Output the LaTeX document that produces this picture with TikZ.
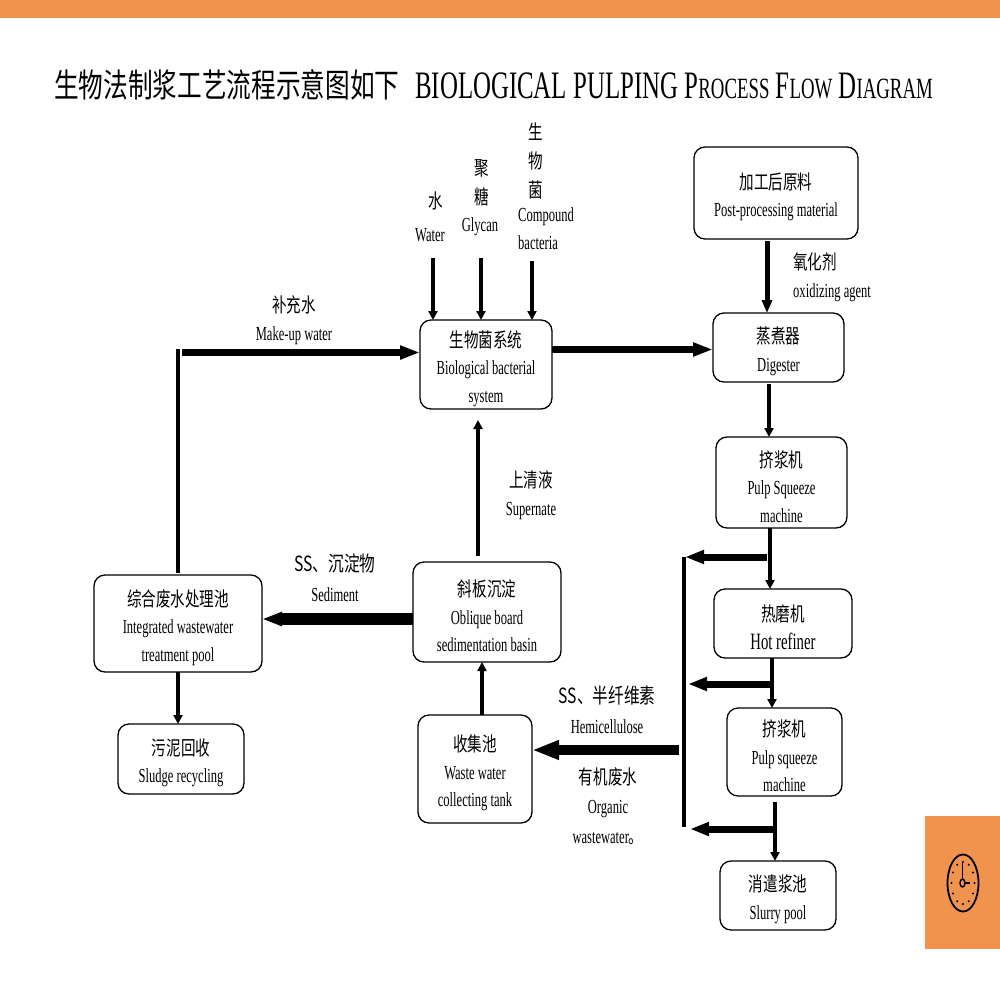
\documentclass[tikz,border=0pt]{standalone}
\usepackage{fontspec}
\usetikzlibrary{arrows.meta,shapes.geometric}
\setmainfont[FakeStretch=0.63]{Liberation Serif}
\newfontfamily\headfont[FakeStretch=0.64]{Liberation Serif}
\newfontfamily\cjfont[FakeStretch=0.73]{Noto Sans CJK SC}
\newfontfamily\cjhead[FakeStretch=0.75]{Noto Sans CJK SC}
\newcommand{\cj}[1]{{\cjfont #1}}
% first line of a box: a tall strut sets the block slightly lower in its frame
\newcommand{\hd}[1]{\rule{0pt}{24.5bp}{\cjfont #1}}
\definecolor{accent}{HTML}{EF934E}
\tikzset{
  x=1bp, y=-1bp,
  boxnode/.style={draw=black, line width=1.3bp, rounded corners=11bp, align=center, inner sep=0pt, outer sep=0pt,
    font=\fontsize{20}{27.5}\selectfont},
  lab/.style={align=center, inner sep=0pt, font=\fontsize{20}{28}\selectfont},
  biglab/.style={align=center, inner sep=0pt, font=\fontsize{21}{30}\selectfont},
  feed/.style={line width=4.2bp, -{Triangle[length=9bp,width=9bp]}},
  main/.style={line width=7.5bp, -{Triangle[length=20bp,width=13bp]}},
  mainthin/.style={line width=5bp, -{Triangle[length=13bp,width=10bp]}},
  branch/.style={line width=7bp, -{Triangle[length=19bp,width=13bp]}},
  heavy/.style={line width=10bp, -{Triangle[length=27bp,width=18bp]}},
  settle/.style={line width=12bp, -{Triangle[length=20bp,width=13bp]}},
  bar/.style={line width=4bp},
}
\begin{document}
\begin{tikzpicture}
\useasboundingbox (0,0) rectangle (1000,1000);
\fill[accent] (0,0) rectangle (1000,18);
\fill[accent] (925,816) rectangle (1000,949);

% heading
\node[inner sep=0pt, anchor=west] (headcn) at (54,85) {\fontsize{33}{36}\cjhead\selectfont 生物法制浆工艺流程示意图如下};
\node[inner sep=0pt, anchor=west] (headen) at (415,86) {\headfont\fontsize{39}{40}\selectfont BIOLOGICAL PULPING P{\fontsize{29.5}{40}\selectfont ROCESS} F{\fontsize{29.5}{40}\selectfont LOW} D{\fontsize{29.5}{40}\selectfont IAGRAM}};

% process units
\node[boxnode, minimum width=164bp, minimum height=92bp] (raw) at (776,193) {\hd{加工后原料}\\Post-processing material};
\node[boxnode, minimum width=131bp, minimum height=69bp] (digester) at (778.5,347.5) {\hd{蒸煮器}\\Digester};
\node[boxnode, minimum width=131bp, minimum height=91bp] (squeezeA) at (781.5,482.5) {\hd{挤浆机}\\Pulp Squeeze\\machine};
\node[boxnode, minimum width=138bp, minimum height=69bp] (refiner) at (783,623.5) {\hd{热磨机}\\{\fontsize{23.5}{27.5}\selectfont Hot refiner}};
\node[boxnode, minimum width=115bp, minimum height=88bp] (squeezeB) at (784.5,752) {\hd{挤浆机}\\Pulp squeeze\\machine};
\node[boxnode, minimum width=116bp, minimum height=69bp] (slurry) at (778,895.5) {\hd{消遣浆池}\\Slurry pool};
\node[boxnode, minimum width=132bp, minimum height=89bp] (bio) at (486,364.5) {\hd{生物菌系统}\\Biological bacterial\\system};
\node[boxnode, minimum width=148bp, minimum height=100bp] (oblique) at (487,612) {\hd{斜板沉淀}\\Oblique board\\sedimentation basin};
\node[boxnode, minimum width=114bp, minimum height=108bp] (collect) at (475,769) {\hd{收集池}\\Waste water\\collecting tank};
\node[boxnode, minimum width=168bp, minimum height=97bp] (treat) at (178,623.5) {\hd{综合废水处理池}\\Integrated wastewater\\treatment pool};
\node[boxnode, minimum width=126bp, minimum height=70bp] (sludge) at (181,759) {\hd{污泥回收}\\Sludge recycling};

% inlet and flow labels
\node[lab] (waterCn) at (436,201) {\cj{水}};
\node[lab] (waterEn) at (430,235) {Water};
\node[lab, font=\fontsize{20}{29.5}\selectfont] (glycanCn) at (482,183) {\cj{聚}\\\cj{糖}};
\node[lab] (glycanEn) at (480,227) {Glycan};
\node[lab, font=\fontsize{20}{29.5}\selectfont] (bacteriaCn) at (536,161) {\cj{生}\\\cj{物}\\\cj{菌}};
\node[lab, align=left, anchor=west] (bacteriaEn) at (518,229) {Compound\\bacteria};
\node[lab] (makeup) at (294,320) {\cj{补充水}\\Make-up water};
\node[lab, align=left, anchor=west] (agent) at (793,277) {\cj{氧化剂}\\oxidizing agent};
\node[lab] (super) at (531,495) {\cj{上清液}\\Supernate};
\node[biglab] (sediment) at (335,578) {\cjhead SS、沉淀物\\{\fontsize{20}{28}\rmfamily\selectfont Sediment}};
\node[biglab] (hemi) at (607,710) {\cjhead SS、半纤维素\\{\fontsize{20}{28}\rmfamily\selectfont Hemicellulose}};
\node[lab, font=\fontsize{20}{29.5}\selectfont] (organic) at (608,806) {\cj{有机废水}\\Organic\\wastewater\cj{。}};

% free ends of the flow lines
\coordinate (inW) at (433,258);
\coordinate (inG) at (481,258);
\coordinate (inB) at (532,261);
\coordinate (busTop) at (684,557);
\coordinate (busBot) at (684,827);
\coordinate (busOut) at (679,750);
\coordinate (tapA) at (767,557);
\coordinate (tipA) at (685,557);
\coordinate (tapB) at (771,684);
\coordinate (tipB) at (688,684);
\coordinate (tapC) at (773,829);
\coordinate (tipC) at (690,829);
\coordinate (riserTop) at (178,349);
\coordinate (riserBot) at (178,573);
\coordinate (runStart) at (182,352.5);
\coordinate (superTop) at (478,420);
\coordinate (superBot) at (478,556);
\coordinate (slurryIn) at (775,802);
\coordinate (oxIn) at (767,241);
\coordinate (digOut) at (769,384);
\coordinate (sqOut) at (770,528);
\coordinate (refOut) at (772,658);
\coordinate (colOut) at (482,715);
\coordinate (sludgeIn) at (178,672);

% connectors
\draw[feed] (inW) -- (inW |- bio.north);
\draw[feed] (inG) -- (inG |- bio.north);
\draw[feed] (inB) -- (inB |- bio.north);
\draw[main] (bio.east |- 0,349.5) -- (digester.west |- 0,349.5);
\draw[mainthin] (oxIn) -- (oxIn |- digester.north);
\draw[feed] (digOut) -- (digOut |- squeezeA.north);
\draw[feed] (sqOut) -- (sqOut |- refiner.north);
\draw[feed] (refOut) -- (refOut |- squeezeB.north);
\draw[feed] (slurryIn) -- (slurryIn |- slurry.north);
\draw[bar] (busTop) -- (busBot);
\draw[branch] (tapA) -- (tipA);
\draw[branch] (tapB) -- (tipB);
\draw[branch] (tapC) -- (tipC);
\draw[heavy] (busOut) -- (collect.east |- busOut);
\draw[feed] (colOut) -- (colOut |- oblique.south);
\draw[feed] (superBot) -- (superTop);
\draw[settle] (oblique.west |- 0,619) -- (treat.east |- 0,619);
\draw[feed] (sludgeIn) -- (sludgeIn |- sludge.north);
\draw[bar] (riserBot) -- (riserTop);
\draw[main] (runStart) -- (bio.west |- runStart);

% clock emblem
\draw[line width=1.8bp] (963,883) ellipse (15.5bp and 28.5bp);
\draw[line width=1.4bp] (962.5,883) ellipse (2.5bp and 4bp);
\draw[line width=1.4bp] (962.5,879) -- (962.5,862);
\draw[line width=1.8bp] (965,883) -- (970,883);
\foreach \a in {0,30,...,330}
  \fill ({963+11.5*cos(\a)},{883+21*sin(\a)}) circle (1.1bp);
\end{tikzpicture}
\end{document}
